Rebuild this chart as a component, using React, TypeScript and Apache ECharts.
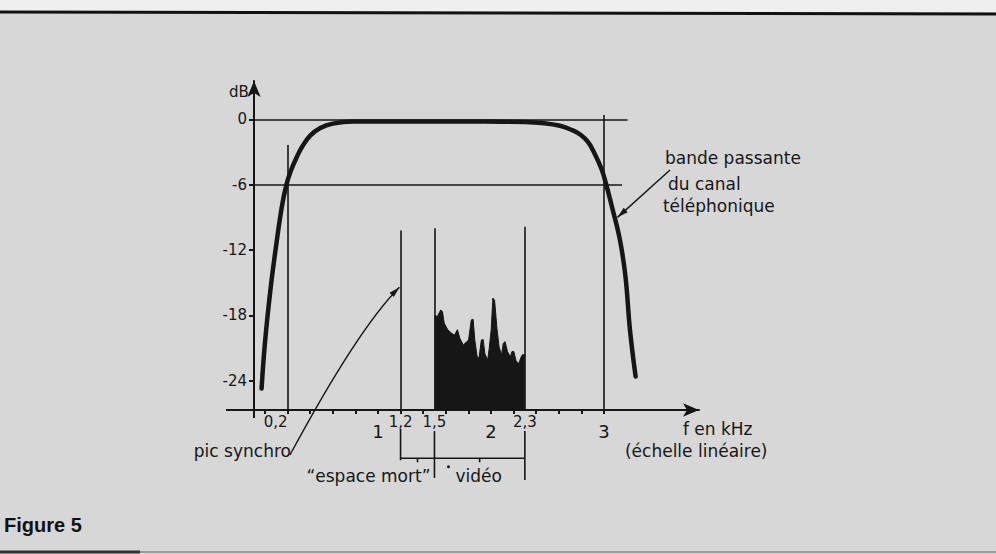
import React, { useEffect, useRef } from "react";
import * as echarts from "echarts";

// Filter response of the telephone channel (kHz, dB)
const curveKHz = [-0.03, 0.0, 0.05, 0.1, 0.15, 0.19, 0.23, 0.28, 0.33, 0.4, 0.49, 0.6, 0.78, 1.0, 1.4, 1.8, 2.1, 2.3, 2.45, 2.61, 2.72, 2.79, 2.86, 2.92, 2.98, 3.02, 3.07, 3.14, 3.19, 3.23, 3.28];
const curveDb = [-24.7, -20.5, -15.5, -11.5, -8.0, -6.0, -4.7, -3.5, -2.5, -1.5, -0.8, -0.4, -0.2, -0.2, -0.2, -0.2, -0.22, -0.25, -0.35, -0.6, -1.0, -1.4, -2.1, -3.2, -4.6, -6.0, -8.0, -11.0, -14.4, -19.3, -23.6];

// Video spectrum between 1.5 and 2.3 kHz
const noiseKHz = [1.5, 1.525, 1.555, 1.571, 1.586, 1.617, 1.648, 1.678, 1.703, 1.725, 1.755, 1.802, 1.826, 1.842, 1.857, 1.878, 1.894, 1.915, 1.931, 1.946, 1.971, 1.986, 2.002, 2.017, 2.032, 2.054, 2.072, 2.094, 2.109, 2.125, 2.146, 2.171, 2.186, 2.202, 2.223, 2.248, 2.263, 2.278, 2.294, 2.3];
const noiseDb = [-17.95, -18.1, -17.5, -17.65, -18.7, -19.3, -19.6, -19.8, -19.3, -20.1, -20.7, -20.25, -18.4, -18.35, -20.25, -21.8, -21.9, -20.25, -20.2, -21.5, -22.1, -20.9, -19.3, -16.4, -16.6, -19.3, -20.9, -21.6, -20.55, -20.4, -21.3, -21.8, -21.3, -21.3, -22.2, -22.4, -21.9, -21.6, -21.6, -21.8];

// Axes
const yTickValues = [0, -6, -12, -18, -24];
const yTickLabels = ["0", "-6", "-12", "-18", "-24"];
const xTickValues = [0, 0.2, 0.4, 0.6, 0.8, 1, 1.2, 1.4, 1.6, 1.8, 2, 2.2, 2.4, 2.6, 2.8, 3];
const xLabelValues = [0.2, 1, 1.2, 1.5, 2, 2.3, 3];
const xLabelTexts = ["0,2", "1", "1,2", "1,5", "2", "2,3", "3"];

// Reference lines
const refVKHz = [0.2, 1.2, 1.5, 2.3, 3];
const refVTopDb = [-2.36, -10.2, -10.0, -9.85, 0.4];
const refHDb = [0, -6];
const refHEndKHz = [3.21, 3.16];

export default function App() {
  const ref = useRef<HTMLDivElement>(null);
  useEffect(() => {
    const el = ref.current!;
    const chart = echarts.init(el, null, { renderer: "svg", width: 996, height: 554 });
    const X_MIN = -0.097, X_MAX = 3.841, Y_MIN = -26.67, Y_MAX = 3.51;
    const font = "'DejaVu Sans', sans-serif";
    const ink = "#161616";

    const markLines: any[] = [];
    refVKHz.forEach((x, i) => markLines.push([{ coord: [x, Y_MIN] }, { coord: [x, refVTopDb[i]] }]));
    refHDb.forEach((y, i) => markLines.push([{ coord: [X_MIN, y] }, { coord: [refHEndKHz[i], y] }]));

    chart.setOption({
      animation: false,
      backgroundColor: "#d7d7d7",
      grid: { left: 254, right: 297, top: 81, bottom: 144 },
      xAxis: {
        type: "value", min: X_MIN, max: X_MAX,
        axisLine: { show: true, onZero: false, symbol: ["none", "arrow"], symbolSize: [10, 16], lineStyle: { color: ink, width: 2 } },
        axisTick: { show: true, customValues: xTickValues, length: 4, lineStyle: { color: ink, width: 2 } },
        axisLabel: {
          customValues: xLabelValues, margin: 4, color: ink, fontFamily: font,
          formatter: (v: number) => {
            const i = xLabelValues.findIndex((u) => Math.abs(u - v) < 1e-6);
            const t = i >= 0 ? xLabelTexts[i] : "";
            const st = Number.isInteger(v) ? "big" : v < 0.5 ? "shift" : "small";
            return `{${st}|${t}}`;
          },
          rich: {
            big: { fontSize: 18, fontFamily: font, color: ink, padding: [8, 0, 0, 0] },
            small: { fontSize: 15, fontFamily: font, color: ink },
            shift: { fontSize: 15, fontFamily: font, color: ink, padding: [0, 24, 0, 0] },
          },
        },
        splitLine: { show: false },
      },
      yAxis: {
        type: "value", min: Y_MIN, max: Y_MAX,
        axisLine: { show: true, onZero: false, symbol: ["none", "arrow"], symbolSize: [10, 16], lineStyle: { color: ink, width: 2 } },
        axisTick: { show: true, customValues: yTickValues, length: 5, lineStyle: { color: ink, width: 2 } },
        axisLabel: {
          customValues: yTickValues, margin: 7, color: ink, fontFamily: font, fontSize: 15,
          formatter: (v: number) => {
            const i = yTickValues.findIndex((u) => Math.abs(u - v) < 1e-6);
            return i >= 0 ? yTickLabels[i] : "";
          },
        },
        splitLine: { show: false },
      },
      series: [
        {
          type: "line", name: "vidéo",
          data: noiseKHz.map((x, i) => [x, noiseDb[i]]),
          symbol: "none", z: 2,
          lineStyle: { color: ink, width: 1 },
          areaStyle: { color: ink, opacity: 1, origin: "start" },
          markLine: {
            silent: true, symbol: ["none", "none"], label: { show: false },
            lineStyle: { color: ink, width: 1.6, type: "solid" },
            emphasis: { disabled: true },
            data: markLines,
          },
        },
        {
          type: "line", name: "bande passante",
          data: curveKHz.map((x, i) => [x, curveDb[i]]),
          symbol: "none", z: 4, smooth: 0.4,
          lineStyle: { color: ink, width: 4.5, cap: "round", join: "round" },
        },
      ],
    });

    const P = (x: number, y: number) => chart.convertToPixel({ gridIndex: 0 }, [x, y]) as number[];
    const arrowHead = (from: number[], tip: number[], L: number, W: number) => {
      const dx = tip[0] - from[0], dy = tip[1] - from[1];
      const d = Math.hypot(dx, dy) || 1;
      const ux = dx / d, uy = dy / d;
      const bx = tip[0] - ux * L, by = tip[1] - uy * L;
      const nx = -uy, ny = ux;
      return {
        type: "polygon",
        shape: { points: [[tip[0], tip[1]], [bx + nx * W, by + ny * W], [bx - nx * W, by - ny * W]] },
        style: { fill: ink },
        z: 10,
      };
    };
    const txt = (x: number, y: number, text: string, align = "left", size = 17, extra: any = {}) => ({
      type: "text", x, y, z: 10,
      style: { text, fill: ink, fontSize: size, fontFamily: font, align, verticalAlign: "middle", ...extra },
    });
    const ln = (x1: number, y1: number, x2: number, y2: number, w = 1.6, c = ink) => ({
      type: "line", z: 10, shape: { x1, y1, x2, y2 }, style: { stroke: c, lineWidth: w },
    });

    const o = P(X_MIN, Y_MIN);
    const top = P(X_MIN, Y_MAX);
    const els: any[] = [];
    // page frame
    els.push({ type: "rect", shape: { x: 0, y: 0, width: 996, height: 12 }, style: { fill: "#efefef" }, z: 1 });
    els.push(ln(0, 12, 996, 14, 3, "#111"));
    els.push(ln(0, 552, 140, 552, 3, "#333"));
    els.push(ln(140, 552, 996, 552, 2, "#9a9a9a"));
    els.push(txt(4, 525, "Figure 5", "left", 20, { fontFamily: "'Liberation Sans', Arial, sans-serif", fontWeight: "bold", fill: "#111" }));
    // axis extensions (axes cross)
    els.push(ln(o[0] - 28, o[1], o[0], o[1], 2));
    els.push(ln(o[0], o[1], o[0], o[1] + 8, 2));
    els.push(txt(o[0] - 15, top[1] + 10.5, "dB", "center", 15));

    // telephone channel annotation
    const tTail = P(3.584, -4.65);
    const tTip = P(3.12, -9.0);
    els.push(ln(tTail[0], tTail[1], tTip[0], tTip[1], 1.4));
    els.push(arrowHead(tTail, tTip, 11, 3));
    els.push(txt(tTail[0] - 5, tTail[1] - 12, "bande passante"));
    els.push(txt(tTail[0] - 2, tTail[1] + 14, "du canal"));
    els.push(txt(tTail[0] - 7, tTail[1] + 35.7, "téléphonique"));

    // pic synchro annotation (quadratic curve)
    const sStart = P(0.221, -30.8);
    const sCtrl = P(0.821, -19.24);
    const sTip = P(1.19, -15.4);
    els.push({
      type: "bezierCurve", z: 10,
      shape: { x1: sStart[0], y1: sStart[1], x2: sTip[0], y2: sTip[1], cpx1: sCtrl[0], cpy1: sCtrl[1] },
      style: { stroke: ink, lineWidth: 1.4, fill: null },
    });
    els.push(arrowHead(sCtrl, sTip, 11, 3));
    els.push(txt(sStart[0] + 1, sStart[1] - 4.3, "pic synchro", "right"));

    // brackets below the axis
    const yB = P(1.2, -31.1)[1];
    const yTopB = P(1.2, -28.6)[1];
    const x12 = P(1.2, 0)[0], x15 = P(1.5, 0)[0], x23 = P(2.3, 0)[0];
    els.push(ln(x12, yTopB - 2, x12, yB + 2));
    els.push(ln(x15, yTopB, x15, P(1.5, -32.9)[1]));
    els.push(ln(x23, yTopB, x23, P(2.3, -33.1)[1]));
    els.push(ln(x12, yB, x23, yB));
    els.push(ln(P(1.35, 0)[0], yB, P(1.35, 0)[0], yB + 4));
    els.push(ln(P(1.9, 0)[0], yB, P(1.9, 0)[0], yB + 4));
    const yTxt = P(1.5, -33.25)[1] - 6;
    els.push(txt(x15 - 4, yTxt, "\u201Cespace mort\u201D", "right"));
    els.push(txt(x15 + 21, yTxt, "vidéo", "left"));
    els.push({ type: "circle", z: 10, shape: { cx: x15 + 14, cy: yTxt - 9, r: 1.5 }, style: { fill: ink } });

    // axis title
    const x3 = P(3, Y_MIN);
    els.push(txt(x3[0] + 79, x3[1] + 19, "f en kHz"));
    els.push(txt(x3[0] + 21, x3[1] + 40.7, "(échelle linéaire)"));

    chart.setOption({ graphic: { elements: els } });

    return () => chart.dispose();
  }, []);
  return <div ref={ref} style={{ position: "absolute", left: 0, top: 0, width: 996, height: 554 }} />;
}
